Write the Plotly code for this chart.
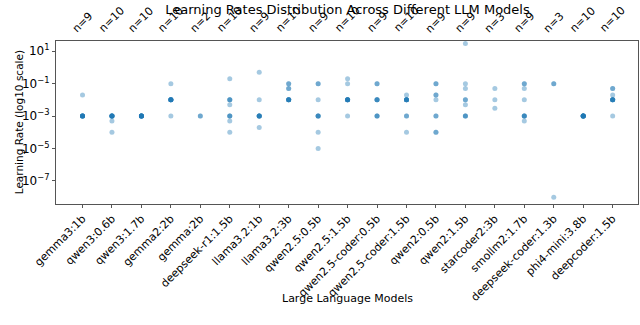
import plotly.graph_objects as go

# model names in plot order
models = ["gemma3:1b", "qwen3:0.6b", "qwen3:1.7b", "gemma2:2b", "gemma:2b",
          "deepseek-r1:1.5b", "llama3.2:1b", "llama3.2:3b", "qwen2.5:0.5b",
          "qwen2.5:1.5b", "qwen2.5-coder:0.5b", "qwen2.5-coder:1.5b",
          "qwen2:0.5b", "qwen2:1.5b", "starcoder2:3b", "smollm2:1.7b",
          "deepseek-coder:1.3b", "phi4-mini:3.8b", "deepcoder:1.5b"]

lr_gemma3_1b = [0.02] + [1e-3] * 8
lr_qwen3_06b = [1e-3] * 8 + [5e-4, 1e-4]
lr_qwen3_17b = [1e-3] * 10
lr_gemma2_2b = [0.1] + [0.01] * 8 + [1e-3]
lr_gemma_2b = [1e-3] * 2
lr_deepseek_r1 = [0.2] + [0.01] * 3 + [5e-3] + [1e-3] * 3 + [5e-4, 1e-4]
lr_llama32_1b = [0.5, 0.01] + [1e-3] * 6 + [2e-4]
lr_llama32_3b = [0.1] * 2 + [0.05] * 2 + [0.01] * 6
lr_qwen25_05b = [0.1] * 2 + [0.01] + [1e-3] * 4 + [1e-4, 1e-5]
lr_qwen25_15b = [0.2, 0.1] + [0.01] * 7 + [1e-3]
lr_qwen25c_05b = [0.1] * 2 + [0.01] * 4 + [1e-3] * 3
lr_qwen25c_15b = [0.02] + [0.01] * 6 + [1e-3] * 2 + [1e-4]
lr_qwen2_05b = [0.1] * 2 + [0.02] * 2 + [0.01] + [1e-3] * 2 + [1e-4] * 2
lr_qwen2_15b = [30, 0.1, 0.05] + [0.01] * 2 + [5e-3] + [1e-3] * 3
lr_starcoder2 = [0.05, 0.01, 3e-3]
lr_smollm2 = [0.1] * 2 + [0.05, 0.01] + [1e-3] * 4 + [5e-4]
lr_deepseek_coder = [0.1] * 2 + [1e-8]
lr_phi4_mini = [1e-3] * 10
lr_deepcoder = [0.05] * 2 + [0.02] + [0.01] * 6 + [1e-3]

# sample counts shown on top
counts = [9, 10, 10, 10, 2, 10, 9, 10, 9, 10, 9, 10, 9, 9, 3, 9, 3, 10, 10]

all_lrs = [lr_gemma3_1b, lr_qwen3_06b, lr_qwen3_17b, lr_gemma2_2b, lr_gemma_2b,
           lr_deepseek_r1, lr_llama32_1b, lr_llama32_3b, lr_qwen25_05b,
           lr_qwen25_15b, lr_qwen25c_05b, lr_qwen25c_15b, lr_qwen2_05b,
           lr_qwen2_15b, lr_starcoder2, lr_smollm2, lr_deepseek_coder,
           lr_phi4_mini, lr_deepcoder]

xs, ys = [], []
for i, vals in enumerate(all_lrs):
    xs += [i] * len(vals)
    ys += vals

fig = go.Figure()

# one marker per run, transparent so repeats look darker
fig.add_trace(go.Scatter(x=xs, y=ys, mode='markers',
                         marker=dict(color='#1f77b4', opacity=0.4, size=5,
                                     line_width=0),
                         showlegend=False, hoverinfo='y'))

font = "DejaVu Sans, Arial, sans-serif"
frame = '#555555'

# n= labels above each column
for i, c in enumerate(counts):
    fig.add_annotation(x=i, xref='x', y=1, yref='paper', text=f"n={c}",
                       textangle=-45, showarrow=False, xanchor='center',
                       yanchor='bottom', yshift=3, font=dict(size=11))

# axis titles placed by hand
fig.add_annotation(text="Large Language Models", xref='paper', yref='paper',
                   x=0.5, y=-0.577, xanchor='center', yanchor='middle',
                   showarrow=False, font=dict(size=11))
fig.add_annotation(text="Learning Rate (log10 scale)", xref='paper', yref='paper',
                   x=-0.064, y=0.5, xanchor='center', yanchor='middle',
                   textangle=-90, showarrow=False, font=dict(size=10.5))

fig.update_layout(
    width=640, height=325,
    margin=dict(l=56, r=2, t=41, b=121),
    paper_bgcolor='white', plot_bgcolor='white',
    font=dict(family=font, size=11, color='black'),
    title=dict(text="Learning Rates Distribution Across Different LLM Models",
               x=0.543, xanchor='center', y=0.97, yanchor='middle',
               font=dict(size=13)),
    xaxis=dict(range=[-0.9, 18.86], tickmode='array',
               tickvals=list(range(len(models))), ticktext=models,
               tickangle=-45, ticks='outside', ticklen=3, tickcolor=frame,
               showline=True, linecolor=frame, linewidth=1, mirror=True,
               showgrid=False, zeroline=False, tickfont=dict(size=11),
               automargin=False),
    yaxis=dict(type='log', range=[-8.42, 1.63],
               tickmode='array', tickvals=[10, 0.1, 1e-3, 1e-5, 1e-7],
               ticktext=["10<sup>1</sup>", "10<sup>−1</sup>", "10<sup>−3</sup>",
                         "10<sup>−5</sup>", "10<sup>−7</sup>"],
               ticks='outside', ticklen=3, tickcolor=frame,
               showline=True, linecolor=frame, linewidth=1, mirror=True,
               showgrid=False, zeroline=False, tickfont=dict(size=12),
               automargin=False),
)

# page has a default 8px body margin; drop it so the figure sits at 0,0
fig.write_html("out.html", config={'displayModeBar': False},
               post_script="document.body.style.margin='0px';")
